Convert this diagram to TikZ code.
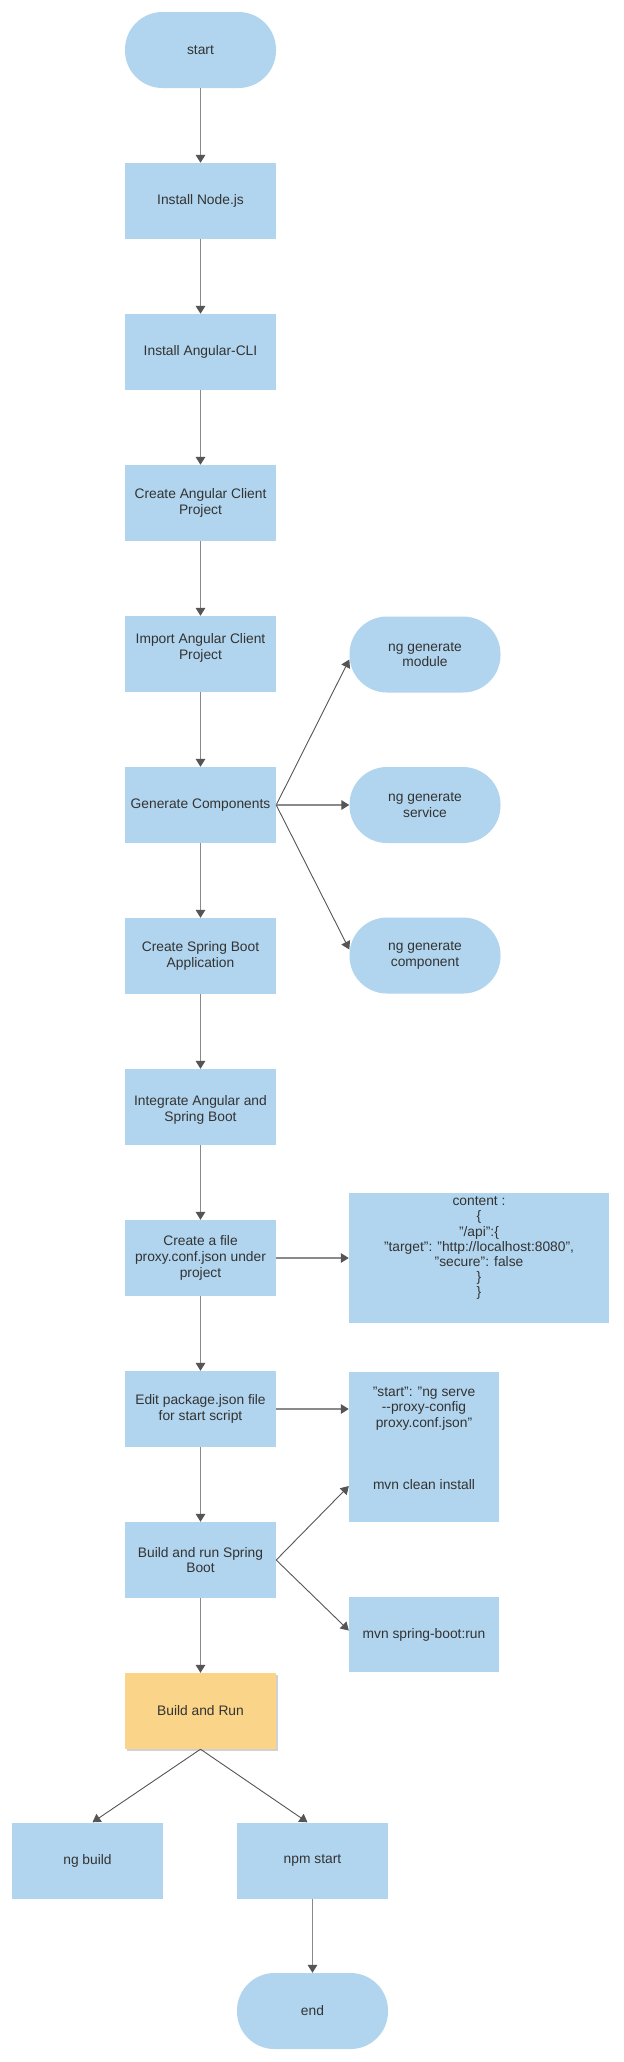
\documentclass[tikz,border=0pt]{standalone}
\usepackage{fontspec}
\setmainfont{Liberation Sans}
\usetikzlibrary{arrows.meta,calc,shadows}
\definecolor{boxblue}{HTML}{B1D5EE}
\definecolor{boxorange}{HTML}{FAD589}
\definecolor{txt}{HTML}{333333}
\definecolor{linegray}{HTML}{8A8A8A}
\definecolor{tipgray}{HTML}{555555}
\tikzset{
  base/.style={fill=boxblue, draw=none, text=txt, align=center, inner sep=2bp,
    font=\fontsize{13.85}{15.66}\selectfont},
  stepbox/.style={base, rectangle, minimum width=151bp, minimum height=76bp},
  pill/.style={base, rectangle, rounded corners=37.5bp, minimum width=151bp, minimum height=76bp},
  orangebox/.style={stepbox, fill=boxorange, drop shadow={shadow xshift=1.5bp, shadow yshift=-1.5bp, opacity=0.18, fill=black}},
  flow/.style={draw=linegray, line width=1.6bp, -{Triangle[length=8bp,width=9.5bp,color=tipgray,fill=tipgray]}},
  diag/.style={draw=tipgray, line width=0.9bp, -{Triangle[length=8bp,width=9.5bp,color=tipgray,fill=tipgray]}},
  plaintext/.style={text=txt, align=center, inner sep=0bp, font=\fontsize{13.85}{15.1}\selectfont},
}
\begin{document}
\begin{tikzpicture}[x=1bp,y=-1bp]
\useasboundingbox[fill=white] (0,0) rectangle (624,2062);
% main column
\node[pill]    (start)  at (200.5,50)   {start};
\node[stepbox] (node)   at (200.5,201)  {Install Node.js};
\node[stepbox] (cli)    at (200.5,352)  {Install Angular-CLI};
\node[stepbox] (create) at (200.5,503)  {Create Angular Client\\Project};
\node[stepbox] (import) at (200.5,654)  {Import Angular Client\\Project\\ \mbox{}};
\node[stepbox] (gen)    at (200.5,805)  {Generate Components};
\node[stepbox] (spring) at (200.5,956)  {Create Spring Boot\\Application};
\node[stepbox] (integ)  at (200.5,1107) {\mbox{}\\Integrate Angular and\\Spring Boot};
\node[stepbox] (proxy)  at (200.5,1258) {Create a file\\proxy.conf.json under\\project};
\node[stepbox] (edit)   at (200.5,1409) {Edit package.json file\\for start script};
\node[stepbox] (bspring) at (200.5,1560) {Build and run Spring\\Boot};
\node[orangebox] (brun) at (200.5,1711) {Build and Run};
\node[stepbox] (ngbuild) at (87.5,1860.5) {ng build};
\node[stepbox] (npm)    at (312.5,1860.5) {npm start};
\node[pill]    (end)    at (312.5,2011) {end};
% right column
\node[pill] (mod)  at (425,654.5) {ng generate\\module};
\node[pill] (serv) at (425,805)   {ng generate\\service};
\node[pill] (comp) at (425,955.5) {ng generate\\component};
\node[stepbox, minimum width=260bp, minimum height=130bp] (content) at (479,1258) {};
\node[plaintext, anchor=north] (contenttext) at ($(content.north)+(0,4)$)
  {content :\\\{\\"/api":\{\\"target": "http://localhost:8080",\\"secure": false\\\}\\\}};
\node[stepbox, minimum width=150bp, minimum height=150bp] (sbox) at (424,1447) {};
\node[plaintext, anchor=north, font=\fontsize{13.85}{15.5}\selectfont] (sboxtext) at ($(sbox.north)+(0,15)$)
  {"start": "ng serve\\-{}-proxy-config\\proxy.conf.json"\\ \mbox{}\\ \mbox{}\\ \mbox{}\\mvn clean install};
\node[stepbox, minimum width=150bp, minimum height=75bp] (sbrun) at (424,1634.5) {mvn spring-boot:run};
% connectors
\draw[flow] (start) -- (node);
\draw[flow] (node) -- (cli);
\draw[flow] (cli) -- (create);
\draw[flow] (create) -- (import);
\draw[flow] (import) -- (gen);
\draw[flow] (gen) -- (spring);
\draw[flow] (spring) -- (integ);
\draw[flow] (integ) -- (proxy);
\draw[flow] (proxy) -- (edit);
\draw[flow] (edit) -- (bspring);
\draw[flow] (bspring) -- (brun);
\draw[flow] (npm) -- (end);
\draw[diag] (gen.east) -- ($(mod.west)+(0,5)$);
\draw[flow] (gen.east) -- (serv.west);
\draw[diag] (gen.east) -- ($(comp.west)+(0,-6)$);
\draw[flow] (proxy.east) -- (proxy.east -| content.west);
\draw[flow] (edit.east) -- (edit.east -| sbox.west);
\draw[diag] (bspring.east) -- ($(sbox.west)+(0,39)$);
\draw[diag] (bspring.east) -- ($(sbrun.west)+(0,-4)$);
\draw[diag] (brun.south) -- ($(ngbuild.north)+(5,0)$);
\draw[diag] (brun.south) -- ($(npm.north)+(-5,0)$);
\end{tikzpicture}
\end{document}
